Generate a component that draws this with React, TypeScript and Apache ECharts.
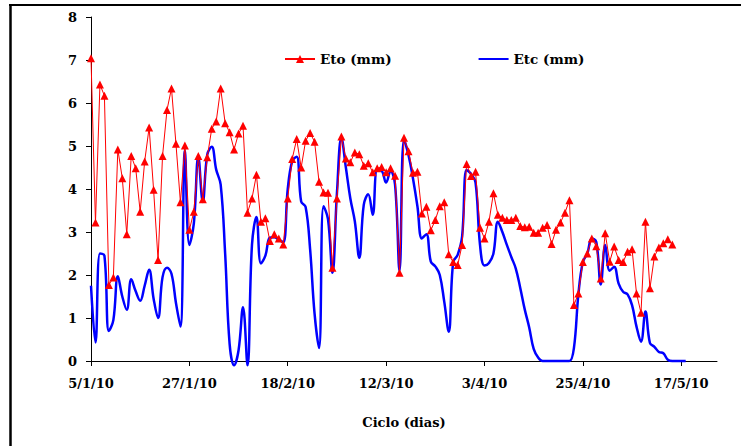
import React, { useEffect, useRef } from 'react';
import * as echarts from 'echarts';

// Day offsets (from 5/1/10) where the date ticks sit, and their labels
const tickDays = [0, 22, 44, 66, 88, 110, 132];
const tickLabels = ['5/1/10', '27/1/10', '18/2/10', '12/3/10', '3/4/10', '25/4/10', '17/5/10'];

// Daily reference evapotranspiration (mm), day 0 = 5/1/10
const etoValues = [
  7.04, 3.22, 6.43, 6.17, 1.77, 1.94, 4.92, 4.25, 2.95, 4.77,
  4.48, 3.47, 4.64, 5.43, 3.98, 2.35, 4.77, 5.84, 6.34, 5.05,
  3.69, 5.01, 3.05, 3.47, 4.77, 3.76, 4.74, 5.4, 5.57, 6.34,
  5.53, 5.32, 4.92, 5.29, 5.47, 3.45, 3.78, 4.33, 3.24, 3.32,
  2.79, 2.95, 2.85, 2.71, 3.78, 4.7, 5.16, 4.5, 5.12, 5.3,
  5.1, 4.17, 3.92, 3.91, 2.17, 3.78, 5.22, 4.71, 4.62, 4.85,
  4.81, 4.54, 4.6, 4.39, 4.48, 4.51, 4.39, 4.48, 4.31, 2.05,
  5.19, 4.88, 4.38, 4.4, 3.43, 3.59, 3.04, 3.28, 3.6, 3.69,
  2.48, 2.3, 2.23, 2.7, 4.58, 4.3, 4.4, 3.1, 2.85, 3.24,
  3.9, 3.4, 3.33, 3.28, 3.28, 3.33, 3.14, 3.11, 3.12, 2.98,
  2.98, 3.1, 3.16, 2.72, 3.05, 3.22, 3.45, 3.74, 1.3, 1.57,
  2.3, 2.5, 2.85, 2.67, 1.92, 2.97, 2.31, 2.66, 2.35, 2.3,
  2.54, 2.6, 1.57, 1.12, 3.24, 1.69, 2.43, 2.64, 2.74, 2.83,
  2.71,
];

// Daily crop evapotranspiration (mm), same day numbering
const etcValues = [
  1.75, 0.43, 2.5, 2.45, 0.7, 0.95, 1.97, 1.5, 1.19, 1.9,
  1.62, 1.4, 1.75, 2.12, 1.45, 1.0, 1.95, 2.17, 2.03, 1.35,
  0.8, 4.9, 2.7, 3.2, 4.75, 3.7, 4.8, 4.98, 4.45, 4.1,
  2.5, 0.4, -0.1, 0.25, 1.25, -0.1, 2.7, 3.35, 2.27, 2.45,
  2.87, 2.88, 2.82, 2.76, 4.0, 4.65, 4.75, 3.71, 3.58, 2.6,
  1.1, 0.3, 3.6, 3.3, 2.05, 3.9, 5.2, 4.5, 3.78, 3.25,
  2.4, 3.63, 3.88, 3.4, 4.44, 4.42, 4.15, 4.42, 4.1, 2.1,
  5.15, 4.79, 4.25, 3.6, 2.85, 2.95, 2.31, 2.2, 2.0, 1.38,
  0.68, 2.3, 2.47, 2.9, 4.44, 4.35, 4.15, 2.7, 2.22, 2.28,
  2.5, 3.24, 3.0, 2.7, 2.42, 2.15, 1.7, 1.2, 0.78, 0.28,
  0.08, 0, 0, 0, 0, 0, 0, 0, 0.3, 1.55,
  2.3, 2.5, 2.85, 2.77, 1.78, 2.7, 2.1, 2.19, 1.8, 1.61,
  1.55, 1.3, 0.8, 0.45, 1.15, 0.42, 0.33, 0.21, 0.18, 0.03,
  0, 0, 0, 0,
];

const FONT = '"DejaVu Serif", "Liberation Serif", serif';

export default function App() {
  const ref = useRef<HTMLDivElement>(null);

  useEffect(() => {
    if (!ref.current) return;
    const chart = echarts.init(ref.current, null, { renderer: 'svg' });
    const labelStyle = { fontFamily: FONT, fontWeight: 'bold' as const, fontSize: 13, color: '#000' };

    chart.setOption({
      animation: false,
      backgroundColor: '#ffffff',
      textStyle: { fontFamily: FONT },
      graphic: [
        { type: 'line', shape: { x1: 9, y1: 5, x2: 741, y2: 5 }, style: { stroke: '#000', lineWidth: 2 } },
        { type: 'line', shape: { x1: 10.5, y1: 4, x2: 10.5, y2: 446 }, style: { stroke: '#000', lineWidth: 2.5 } },
      ],
      legend: {
        left: 279,
        top: 47,
        itemWidth: 30,
        itemHeight: 10,
        itemGap: 86,
        textStyle: { ...labelStyle, fontSize: 13.5 },
        data: [
          { name: 'Eto (mm)' },
          { name: 'Etc (mm)', itemStyle: { opacity: 0 } },
        ],
      },
      grid: { left: 91, right: 24, top: 17, bottom: 85 },
      xAxis: {
        type: 'value',
        min: 0,
        max: 140,
        interval: 22,
        name: 'Ciclo (dias)',
        nameLocation: 'middle',
        nameGap: 55,
        nameTextStyle: labelStyle,
        axisLine: { lineStyle: { color: '#000', width: 1 } },
        axisTick: { show: true, length: 5, customValues: tickDays, lineStyle: { color: '#000' } },
        axisLabel: {
          ...labelStyle,
          margin: 16,
          customValues: tickDays,
          formatter: (v: number) => {
            const i = tickDays.indexOf(v);
            return i >= 0 ? tickLabels[i] : '';
          },
        },
        splitLine: { show: false },
      },
      yAxis: {
        type: 'value',
        min: 0,
        max: 8,
        interval: 1,
        axisLine: { show: true, lineStyle: { color: '#000', width: 1 } },
        axisTick: { show: true, length: 5, lineStyle: { color: '#000' } },
        axisLabel: { ...labelStyle, margin: 14 },
        splitLine: { show: false },
      },
      series: [
        {
          name: 'Etc (mm)',
          type: 'line',
          data: etcValues.map((v, i) => [i, v]),
          smooth: 0.4,
          symbol: 'none',
          clip: false,
          lineStyle: { color: '#0000ff', width: 2.5 },
          itemStyle: { color: '#0000ff' },
          z: 2,
        },
        {
          name: 'Eto (mm)',
          type: 'line',
          data: etoValues.map((v, i) => [i, v]),
          symbol: 'triangle',
          symbolSize: 8,
          lineStyle: { color: '#ff0000', width: 1 },
          itemStyle: { color: '#ff0000' },
          z: 3,
        },
      ],
    });

    return () => chart.dispose();
  }, []);

  return (
    <div
      ref={ref}
      style={{ position: 'absolute', left: 0, top: 0, width: 741, height: 446 }}
    />
  );
}
